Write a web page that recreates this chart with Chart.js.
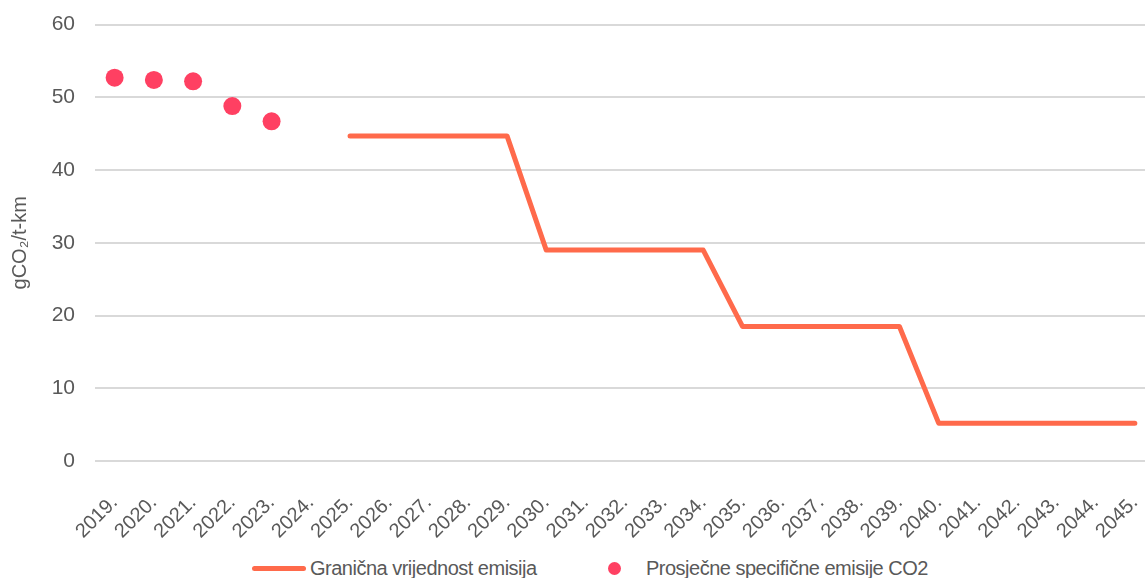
<!DOCTYPE html>
<html>
<head>
<meta charset="utf-8">
<title>Granična vrijednost emisija CO2</title>
<script src="https://cdn.jsdelivr.net/npm/chart.js@4/dist/chart.umd.min.js"></script>
<style>
  html, body { margin: 0; padding: 0; background: #fff; overflow: hidden; }
  #wrap { position: relative; width: 1145px; height: 578px; overflow: hidden; }
  #box { position: absolute; left: 0; top: -8px; width: 1174px; height: 549px; }
  .legend { position: absolute; top: 556px; left: 0; font-family: 'Liberation Sans', Arial, sans-serif;
            font-size: 20px; color: #595959; letter-spacing: -0.5px; line-height: 24px; white-space: nowrap; }
  .legend .item { position: absolute; top: 0; }
  .legend .line { position: absolute; top: 10px; width: 54px; height: 5px; border-radius: 3px; background: #FF6A4B; }
  .legend .dot { position: absolute; top: 6px; width: 13px; height: 13px; border-radius: 50%; background: #FF4062; }
</style>
</head>
<body>
<div id="wrap">
  <div id="box"><canvas id="chart"></canvas></div>
  <div class="legend">
    <span class="line" style="left:252px"></span>
    <span class="item" style="left:310px">Granična vrijednost emisija</span>
    <span class="dot" style="left:608px"></span>
    <span class="item" style="left:646px">Prosječne specifične emisije CO2</span>
  </div>
</div>
<script>
// Years on the x axis
const categories = ['2019.', '2020.', '2021.', '2022.', '2023.', '2024.', '2025.', '2026.', '2027.',
  '2028.', '2029.', '2030.', '2031.', '2032.', '2033.', '2034.', '2035.', '2036.', '2037.',
  '2038.', '2039.', '2040.', '2041.', '2042.', '2043.', '2044.', '2045.'];

// Emission limit (gCO2/t-km), from 2025 onward
const limitValues = [null, null, null, null, null, null,
  44.7, 44.7, 44.7, 44.7, 44.7,
  29.0, 29.0, 29.0, 29.0, 29.0,
  18.5, 18.5, 18.5, 18.5, 18.5,
  5.2, 5.2, 5.2, 5.2, 5.2, 5.2];

// Average specific CO2 emissions, 2019-2023
const averageValues = [52.7, 52.4, 52.2, 48.8, 46.7, null, null, null, null, null, null, null, null, null,
  null, null, null, null, null, null, null, null, null, null, null, null, null];

const yTickValues = [0, 10, 20, 30, 40, 50, 60];

const textColor = '#595959';
const fontFamily = "'Liberation Sans', Arial, sans-serif";

new Chart(document.getElementById('chart'), {
  type: 'line',
  data: {
    labels: categories,
    datasets: [{
      label: 'Granična vrijednost emisija',
      data: limitValues,
      borderColor: '#FF6A4B',
      backgroundColor: '#FF6A4B',
      borderWidth: 5,
      borderCapStyle: 'round',
      borderJoinStyle: 'round',
      pointRadius: 0,
      tension: 0,
      spanGaps: false
    }, {
      label: 'Prosječne specifične emisije CO2',
      data: averageValues,
      showLine: false,
      pointRadius: 9,
      pointBorderWidth: 0,
      pointBackgroundColor: '#FF4062',
      backgroundColor: '#FF4062'
    }]
  },
  options: {
    responsive: true,
    maintainAspectRatio: false,
    animation: false,
    layout: { padding: { top: 16, left: 0, right: 0, bottom: 0 } },
    plugins: {
      legend: { display: false },
      tooltip: { enabled: false }
    },
    scales: {
      x: {
        offset: true,
        grid: { display: false },
        border: { display: false },
        ticks: {
          color: textColor,
          font: { family: fontFamily, size: 20 },
          minRotation: 45,
          maxRotation: 45,
          autoSkip: false,
          padding: 22
        },
        afterFit: function(scale) { scale.height = 80; }
      },
      y: {
        min: 0,
        max: 60,
        afterBuildTicks: function(scale) {
          scale.ticks = yTickValues.map(v => ({ value: v }));
        },
        grid: { color: '#d9d9d9', lineWidth: 2, drawTicks: false },
        border: { display: false },
        ticks: {
          color: textColor,
          font: { family: fontFamily, size: 21 },
          padding: 20
        },
        title: {
          display: true,
          text: 'gCO₂/t-km',
          color: textColor,
          font: { family: fontFamily, size: 20 },
          padding: { top: 8, bottom: 0 }
        },
        afterFit: function(scale) { scale.width = 95; }
      }
    }
  }
});
</script>
</body>
</html>
